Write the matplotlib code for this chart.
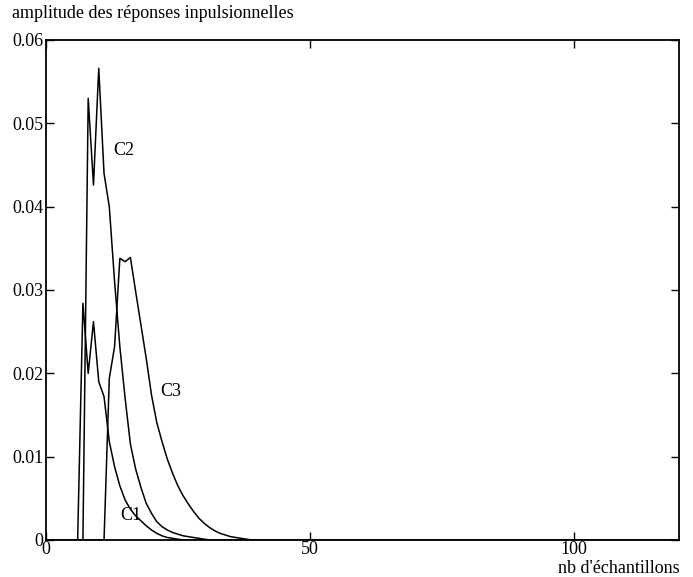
import matplotlib
matplotlib.use("Agg")
import matplotlib.pyplot as plt
import numpy as np

plt.rcParams['font.family'] = ['Liberation Serif', 'DejaVu Serif']

N = 121
samples = np.arange(N)

c1_start = 6
c1_vals = [0.0, 0.0284, 0.0200, 0.0262, 0.0190, 0.0172, 0.0118, 0.0088, 0.0065,
           0.0048, 0.0037, 0.0029, 0.0023, 0.0017, 0.0012, 0.0008, 0.0005, 0.0003,
           0.0002, 0.0001]
c2_start = 7
c2_vals = [0.0, 0.0530, 0.0426, 0.0566, 0.0440, 0.0400, 0.0310, 0.0232, 0.0170,
           0.0115, 0.0085, 0.0063, 0.0044, 0.0032, 0.0022, 0.0016, 0.0012, 0.0009,
           0.0007, 0.0005, 0.0004, 0.0003, 0.0002, 0.0001]
c3_start = 11
c3_vals = [0.0, 0.0194, 0.0232, 0.0338, 0.0334, 0.0339, 0.0298, 0.0258, 0.0218,
           0.0174, 0.0141, 0.0118, 0.0097, 0.0080, 0.0065, 0.0053, 0.0043, 0.0034,
           0.0026, 0.0020, 0.0015, 0.0011, 0.0008, 0.0006, 0.0004, 0.0003, 0.0002,
           0.0001]

labels = ["C1", "C2", "C3"]
label_pos = [(14.1, 0.0030), (12.7, 0.0467), (21.7, 0.0178)]

x_ticks = [0, 50, 100]
y_ticks = [0, 0.01, 0.02, 0.03, 0.04, 0.05, 0.06]
y_ticklabels = ["0", "0.01", "0.02", "0.03", "0.04", "0.05", "0.06"]


def full_series(start, vals):
    y = np.zeros(N)
    y[start:start + len(vals)] = vals
    return y


series = [full_series(c1_start, c1_vals), full_series(c2_start, c2_vals),
          full_series(c3_start, c3_vals)]

fig = plt.figure(figsize=(6.93, 5.77), dpi=100)
ax = fig.add_axes([46 / 693, 37 / 577, 633 / 693, 500 / 577])

for y in series:
    ax.plot(samples, y, color='black', linewidth=1.1)

for lab, (lx, ly) in zip(labels, label_pos):
    ax.text(lx, ly, lab, fontsize=13, ha='left', va='center')

ax.set_xlim(0, 120)
ax.set_ylim(0, 0.06)
ax.set_xticks(x_ticks)
ax.set_xticklabels([str(t) for t in x_ticks])
ax.set_yticks(y_ticks)
ax.set_yticklabels(y_ticklabels)
ax.tick_params(direction='in', top=True, right=True, length=6, width=1,
               labelsize=13)
ax.tick_params(axis='x', pad=1)
ax.tick_params(axis='y', pad=2)
for sp in ax.spines.values():
    sp.set_linewidth(1.3)

fig.text(12 / 693, 1 - 14 / 577, "amplitude des réponses inpulsionnelles",
         fontsize=13, ha='left', va='center')
fig.text(680 / 693, 1 - 573 / 577, "nb d'échantillons",
         fontsize=13, ha='right', va='baseline')

fig.savefig("out.png", dpi=100)
